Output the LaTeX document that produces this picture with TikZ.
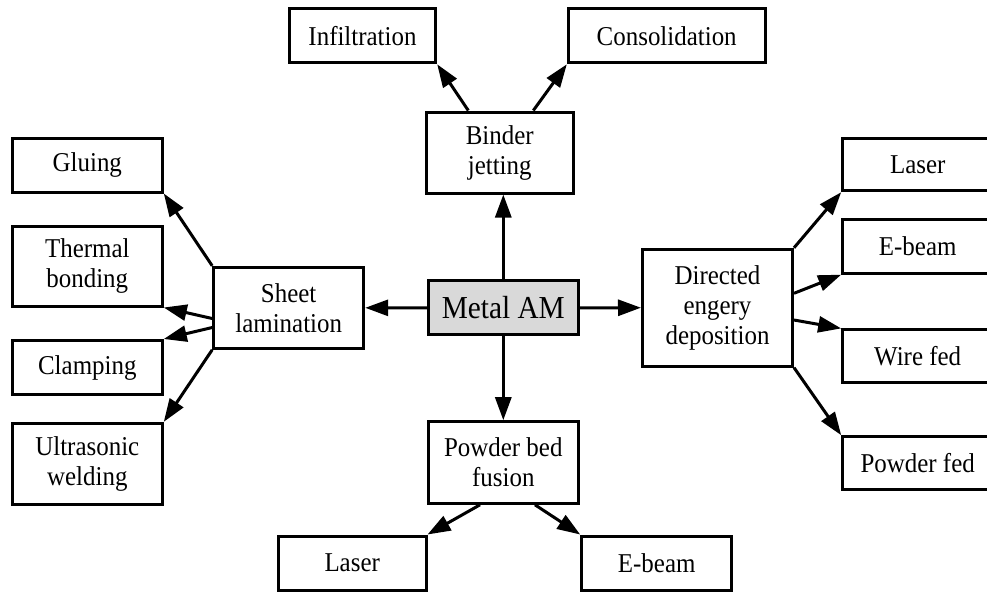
\documentclass[tikz,border=0pt]{standalone}
\usepackage{fontspec}
\setmainfont{Liberation Serif}[FakeStretch=0.917]
\usetikzlibrary{arrows.meta,calc}
\begin{document}
\begin{tikzpicture}[x=0.5pt,y=-0.5pt,
  box/.style={draw=black,line width=1.5pt,fill=white,inner sep=0pt,
    minimum width=75pt,minimum height=27pt,align=center,
    font=\fontsize{13.6pt}{15pt}\selectfont},
  tall/.style={box,minimum height=40.5pt},
  hub/.style={box,fill=gray!30,font=\fontsize{16pt}{18pt}\selectfont},
  link/.style={line width=1.5pt,-{Triangle[length=11.5pt,width=8pt]}}]
\useasboundingbox (0,0) rectangle (987,591);

% centre node
\node[hub] (metal) at (503.3,307.9) {Metal AM};

% binder jetting branch
\node[tall,minimum width=73.6pt] (binder) at (499.7,152.5) {Binder\\jetting};
\node[box,minimum width=73.2pt] (infil) at (362.5,35.8) {Infiltration};
\node[box,minimum width=98.4pt] (consol) at (666.7,35.8) {Consolidation};

% sheet lamination branch
\node[tall] (sheet) at (288.7,307.8) {Sheet\\lamination};
\node[box] (glue) at (87.3,165) {Gluing};
\node[tall,minimum height=40pt] (thermal) at (87.3,266) {Thermal\\bonding};
\node[box] (clamp) at (87.3,367.5) {Clamping};
\node[tall] (ultra) at (87.3,463.8) {Ultrasonic\\welding};

% directed energy deposition branch
\node[box,minimum height=58.4pt] (ded) at (717.5,307.7) {Directed\\engery\\deposition};
\node[box,minimum height=26.2pt] (rlaser) at (917.7,164.5) {Laser};
\node[box] (rbeam) at (917.7,246.2) {E-beam};
\node[box,minimum height=26.4pt] (wire) at (917.7,356.3) {Wire fed};
\node[box,minimum height=26.6pt] (pfed) at (917.7,463.3) {Powder fed};

% powder bed fusion branch
\node[tall,minimum height=40.8pt] (powder) at (503.3,462.5) {Powder bed\\fusion};
\node[box,minimum width=73.8pt] (blaser) at (352.2,563) {Laser};
\node[box] (bbeam) at (656.7,563) {E-beam};

% connectors from the centre
\draw[link] (metal.north) -- (metal.north |- binder.south);
\draw[link] (metal.south) -- (powder.north);
\draw[link] (metal.west) -- (sheet.east);
\draw[link] (metal.east) -- (ded.west);

% binder jetting outputs
\draw[link] ($(binder.north)+(-31.4,0)$) -- (infil.south east);
\draw[link] ($(binder.north)+(33.6,0)$) -- (consol.south west);

% sheet lamination outputs
\draw[link] (sheet.north west) -- (glue.south east);
\draw[link] ($(sheet.west)+(0,10.7)$) -- (thermal.south east);
\draw[link] ($(sheet.west)+(0,19.7)$) -- (clamp.north east);
\draw[link] (sheet.south west) -- (ultra.north east);

% directed energy deposition outputs
\draw[link] (ded.north east) -- (rlaser.south west);
\draw[link] ($(ded.east)+(0,-14.4)$) -- (rbeam.south west);
\draw[link] ($(ded.east)+(0,12.3)$) -- (wire.north west);
\draw[link] (ded.south east) -- (pfed.north west);

% powder bed fusion outputs
\draw[link] ($(powder.south)+(-23.3,0)$) -- (blaser.north east);
\draw[link] ($(powder.south)+(31.7,0)$) -- (bbeam.north west);
\end{tikzpicture}
\end{document}
